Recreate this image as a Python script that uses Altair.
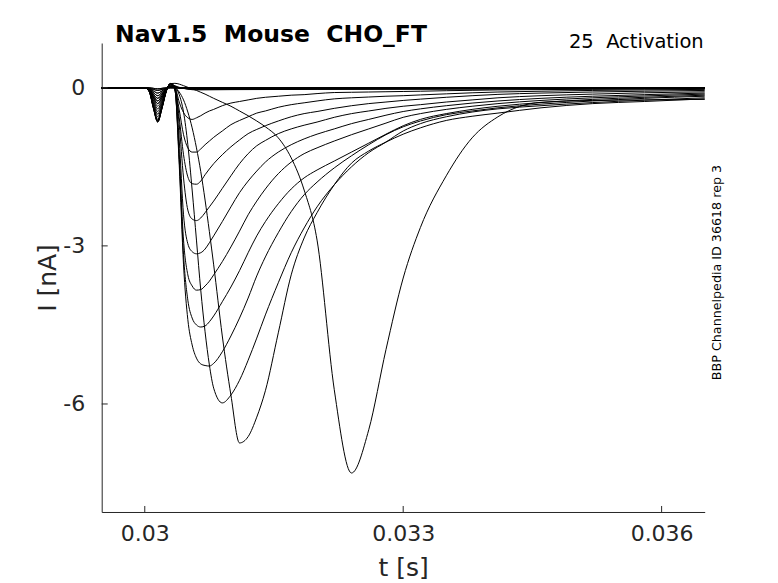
import altair as alt
import pandas as pd

# ---------------- data ----------------
# shared time grid of the activating traces (s)
T = [0.0295, 0.03, 0.03005, 0.0301, 0.03015, 0.0302, 0.03025, 0.0303, 0.03035, 0.0304,
     0.03045, 0.0305, 0.03055, 0.0306, 0.03065, 0.0307, 0.03075, 0.0308, 0.0309, 0.031,
     0.0311, 0.0312, 0.0313, 0.0314, 0.03155, 0.0317, 0.03185, 0.032, 0.0322, 0.0324,
     0.0326, 0.0328, 0.033, 0.0332, 0.0335, 0.0338, 0.0341, 0.0346, 0.0352, 0.0358, 0.0365]

# activating traces (nA)
I01 = [0, 0, -0.04, -0.2, -0.35, -0.21, -0.04, 0.08, 0.02, -0.27,
       -0.47, -0.57, -0.60, -0.57, -0.53, -0.48, -0.44, -0.41, -0.34, -0.29,
       -0.26, -0.23, -0.20, -0.18, -0.16, -0.14, -0.13, -0.11, -0.09, -0.085,
       -0.08, -0.075, -0.07, -0.065, -0.055, -0.048, -0.04, -0.034, -0.029, -0.023, -0.019]
I02 = [0, 0, -0.04, -0.23, -0.40, -0.24, -0.04, 0.08, 0.0, -0.42,
       -0.89, -1.14, -1.22, -1.22, -1.16, -1.08, -1.01, -0.94, -0.82, -0.70,
       -0.62, -0.55, -0.48, -0.44, -0.37, -0.32, -0.285, -0.25, -0.21, -0.19,
       -0.175, -0.16, -0.15, -0.135, -0.115, -0.095, -0.08, -0.065, -0.05, -0.04, -0.03]
I03 = [0, 0, -0.05, -0.26, -0.45, -0.27, -0.05, 0.08, -0.01, -0.57,
       -1.27, -1.69, -1.82, -1.83, -1.77, -1.65, -1.54, -1.44, -1.27, -1.12,
       -0.99, -0.87, -0.79, -0.72, -0.63, -0.55, -0.49, -0.45, -0.39, -0.34,
       -0.30, -0.27, -0.24, -0.215, -0.18, -0.15, -0.125, -0.10, -0.08, -0.065, -0.05]
I04 = [0, 0, -0.05, -0.29, -0.50, -0.30, -0.05, 0.08, -0.02, -0.70,
       -1.71, -2.32, -2.49, -2.52, -2.47, -2.37, -2.26, -2.15, -1.91, -1.67,
       -1.44, -1.25, -1.10, -1.00, -0.87, -0.78, -0.71, -0.65, -0.56, -0.49,
       -0.44, -0.39, -0.35, -0.32, -0.27, -0.23, -0.19, -0.15, -0.12, -0.095, -0.076]
I05 = [0, 0, -0.06, -0.32, -0.55, -0.33, -0.06, 0.08, -0.02, -0.99,
       -2.41, -2.96, -3.11, -3.15, -3.13, -3.06, -2.94, -2.81, -2.54, -2.26,
       -1.99, -1.77, -1.58, -1.41, -1.22, -1.08, -0.97, -0.88, -0.78, -0.68,
       -0.60, -0.52, -0.45, -0.40, -0.34, -0.29, -0.25, -0.20, -0.16, -0.13, -0.10]
I06 = [0, 0, -0.06, -0.35, -0.60, -0.36, -0.06, 0.08, -0.04, -1.27,
       -2.89, -3.55, -3.76, -3.84, -3.83, -3.76, -3.67, -3.55, -3.30, -3.02,
       -2.72, -2.41, -2.15, -1.92, -1.63, -1.41, -1.25, -1.14, -1.01, -0.89,
       -0.78, -0.67, -0.56, -0.49, -0.41, -0.35, -0.30, -0.24, -0.19, -0.155, -0.12]
I07 = [0, 0, -0.06, -0.36, -0.62, -0.37, -0.06, 0.08, -0.04, -1.37,
       -3.17, -4.03, -4.37, -4.50, -4.54, -4.52, -4.44, -4.33, -4.06, -3.78,
       -3.47, -3.13, -2.81, -2.54, -2.20, -1.92, -1.71, -1.56, -1.39, -1.22,
       -1.05, -0.88, -0.72, -0.60, -0.49, -0.41, -0.35, -0.28, -0.22, -0.18, -0.14]
I08 = [0, 0, -0.06, -0.37, -0.63, -0.38, -0.06, 0.08, -0.04, -1.46,
       -3.36, -4.40, -4.88, -5.13, -5.24, -5.27, -5.28, -5.23, -5.01, -4.71,
       -4.37, -3.99, -3.57, -3.21, -2.75, -2.35, -2.03, -1.79, -1.52, -1.29,
       -1.08, -0.89, -0.74, -0.63, -0.51, -0.44, -0.38, -0.31, -0.25, -0.20, -0.16]
I09 = [0, 0, -0.06, -0.38, -0.64, -0.38, -0.06, 0.08, 0.02, -0.13,
       -0.46, -1.08, -1.94, -2.89, -3.84, -4.63, -5.26, -5.70, -5.98, -5.83,
       -5.55, -5.17, -4.75, -4.31, -3.70, -3.13, -2.66, -2.26, -1.84, -1.50,
       -1.23, -1.03, -0.82, -0.68, -0.55, -0.46, -0.40, -0.34, -0.28, -0.235, -0.19]
I10 = [0, 0, -0.06, -0.38, -0.65, -0.39, -0.06, 0.08, 0.01, -0.08,
       -0.23, -0.46, -0.76, -1.14, -1.59, -2.13, -2.73, -3.36, -4.71, -5.83,
       -6.74, -6.62, -6.25, -5.75, -4.65, -3.55, -2.85, -2.37, -1.84, -1.43,
       -1.20, -1.03, -0.88, -0.76, -0.62, -0.54, -0.48, -0.38, -0.30, -0.26, -0.21]
I11 = [0, 0, -0.07, -0.39, -0.65, -0.39, -0.07, 0.08, 0.085, 0.07,
       0.04, 0.01, -0.02, -0.05, -0.085, -0.12, -0.16, -0.20, -0.275, -0.35,
       -0.44, -0.53, -0.63, -0.74, -0.95, -1.33, -1.94, -2.89, -5.73, -7.31,
       -6.49, -4.97, -3.61, -2.65, -1.67, -0.95, -0.55, -0.275, -0.24, -0.23, -0.22]

# sub-threshold traces: own, coarser time grid (s) and currents (nA)
SUB_T = [0.0295, 0.03, 0.03005, 0.0301, 0.03015, 0.0302, 0.03025, 0.0303, 0.0304,
         0.0306, 0.031, 0.032, 0.034, 0.0365]
S01 = [0, 0, 0, -0.01, -0.02, -0.01, 0, 0, 0, 0, 0, 0, 0, 0]
S02 = [0, 0, 0, -0.01, -0.02, -0.01, 0, 0, 0, 0, 0, 0, 0, 0]
S03 = [0, 0, -0.01, -0.03, -0.05, -0.03, -0.01, 0, 0, 0, 0, 0, 0, 0]
S04 = [0, 0, -0.01, -0.03, -0.05, -0.03, -0.01, 0, 0, 0, 0, 0, 0, 0]
S05 = [0, 0, -0.01, -0.06, -0.10, -0.06, -0.01, 0.01, 0, 0, 0, 0, 0, 0]
S06 = [0, 0, -0.01, -0.06, -0.10, -0.06, -0.01, 0.01, 0, 0, 0, 0, 0, 0]
S07 = [0, 0, -0.02, -0.09, -0.15, -0.09, -0.02, 0.01, 0, -0.005, -0.005, 0, 0, 0]
S08 = [0, 0, -0.02, -0.09, -0.15, -0.09, -0.02, 0.02, 0, -0.01, -0.01, -0.005, 0, 0]
S09 = [0, 0, -0.02, -0.12, -0.20, -0.12, -0.02, 0.02, 0, -0.01, -0.01, -0.01, -0.005, 0]
S10 = [0, 0, -0.02, -0.12, -0.20, -0.12, -0.02, 0.03, 0, -0.015, -0.015, -0.01, -0.005, -0.005]
S11 = [0, 0, -0.03, -0.15, -0.25, -0.15, -0.03, 0.03, 0, -0.02, -0.02, -0.015, -0.01, -0.005]
S12 = [0, 0, -0.03, -0.15, -0.25, -0.15, -0.03, 0.04, 0, -0.025, -0.025, -0.02, -0.015, -0.01]
S13 = [0, 0, -0.03, -0.18, -0.30, -0.18, -0.03, 0.05, 0, -0.03, -0.03, -0.025, -0.02, -0.01]
S14 = [0, 0, -0.03, -0.18, -0.30, -0.18, -0.03, 0.06, 0.01, -0.04, -0.035, -0.03, -0.025, -0.015]

X_TICKS = [0.03, 0.033, 0.036]
Y_TICKS = [0, -3, -6]
X_DOMAIN = [0.0295, 0.0365]
Y_DOMAIN = [-8.05, 0.85]

TITLE = "Nav1.5\u00a0 Mouse\u00a0 CHO_FT"
SUBTITLE = "25\u00a0 Activation"
SIDE_NOTE = "BBP Channelpedia ID 36618 rep 3"
X_TITLE = "t [s]"
Y_TITLE = "I [nA]"

# ---------------- build table ----------------
ACTIVE = [I01, I02, I03, I04, I05, I06, I07, I08, I09, I10, I11]
SUBS = [S01, S02, S03, S04, S05, S06, S07, S08, S09, S10, S11, S12, S13, S14]

rows = []
for k, vals in enumerate(SUBS):
    for t, v in zip(SUB_T, vals):
        rows.append({"trace": f"s{k:02d}", "t": t, "I": v})
for k, vals in enumerate(ACTIVE):
    for t, v in zip(T, vals):
        rows.append({"trace": f"a{k:02d}", "t": t, "I": v})
df = pd.DataFrame(rows)

W, H = 603, 469
AX = "#262626"
FONT = "DejaVu Sans"

xs = alt.Scale(domain=X_DOMAIN, nice=False, zero=False)
ys = alt.Scale(domain=Y_DOMAIN, nice=False, zero=False)

x_axis = alt.Axis(
    values=X_TICKS, labelExpr="'' + datum.value", ticks=False, tickSize=0,
    grid=False, domainColor=AX, domainWidth=1,
    labelFont=FONT, labelFontSize=22, labelColor=AX, labelPadding=29,
    labelBaseline="alphabetic", labelFlush=False, labelOverlap=False,
    title=X_TITLE, titleFont=FONT, titleFontSize=25, titleFontWeight="normal",
    titleColor=AX, titleBaseline="alphabetic", titleY=64, titleX=W / 2,
)
y_axis = alt.Axis(
    values=Y_TICKS, labelExpr="'' + datum.value", ticks=False, tickSize=0,
    grid=False, domainColor=AX, domainWidth=1,
    labelFont=FONT, labelFontSize=22, labelColor=AX, labelPadding=17,
    labelFlush=False, labelOverlap=False,
    title=Y_TITLE, titleFont=FONT, titleFontSize=25, titleFontWeight="normal",
    titleColor=AX, titleAngle=270, titleBaseline="alphabetic",
    titleAlign="center", titleX=-46, titleY=H / 2,
)

lines = alt.Chart(df).mark_line(
    color="black", strokeWidth=1, interpolate="monotone"
).encode(
    x=alt.X("t:Q", scale=xs, axis=x_axis),
    y=alt.Y("I:Q", scale=ys, axis=y_axis),
    detail="trace:N",
)

ytick_df = pd.DataFrame({"I": Y_TICKS})
xtick_df = pd.DataFrame({"t": X_TICKS})

yticks = alt.Chart(ytick_df).mark_rule(color=AX, strokeWidth=1).encode(
    y=alt.Y("I:Q", scale=ys, axis=y_axis),
    x=alt.value(0), x2=alt.value(6),
)
xticks = alt.Chart(xtick_df).mark_rule(color=AX, strokeWidth=1).encode(
    x=alt.X("t:Q", scale=xs, axis=x_axis),
    y=alt.value(H), y2=alt.value(H - 6),
)

title = alt.Chart(pd.DataFrame({"s": [TITLE]})).mark_text(
    font=FONT, fontSize=23.5, fontWeight="bold", color="black",
    align="left", baseline="alphabetic",
).encode(text="s:N", x=alt.value(13.3), y=alt.value(-0.7))

sub = alt.Chart(pd.DataFrame({"s": [SUBTITLE]})).mark_text(
    font=FONT, fontSize=19.5, color="black", align="right", baseline="alphabetic",
).encode(text="s:N", x=alt.value(602), y=alt.value(4.7))

side = alt.Chart(pd.DataFrame({"s": [SIDE_NOTE]})).mark_text(
    font=FONT, fontSize=12.7, color="black", align="center", baseline="alphabetic",
    angle=270,
).encode(text="s:N", x=alt.value(619.3), y=alt.value(229.5))

chart = alt.layer(lines, yticks, xticks, title, sub, side).properties(
    width=W, height=H,
    autosize=alt.AutoSizeParams(type="none"),
    padding={"left": 93.7, "top": 35, "right": 65, "bottom": 72},
    background="white",
).configure_view(strokeWidth=0)

chart.save("out.html", embed_options={"renderer": "svg", "actions": False})
